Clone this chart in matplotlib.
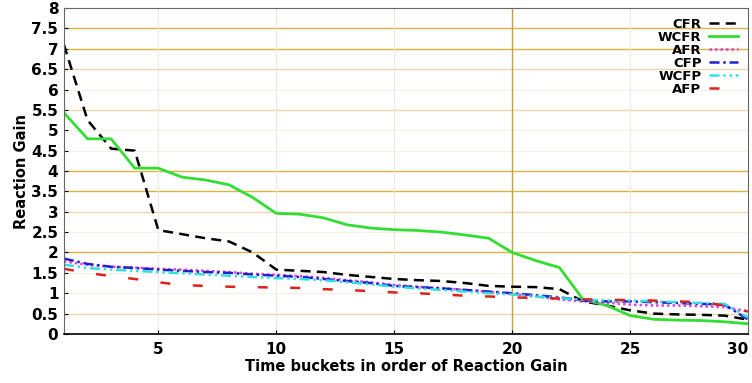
import matplotlib
matplotlib.use("Agg")
import matplotlib.pyplot as plt
import numpy as np

x = list(range(1, 31))
CFR = [7.1, 5.25, 4.55, 4.5, 2.55, 2.45, 2.35, 2.27, 2.0, 1.58, 1.55, 1.52, 1.45, 1.4, 1.35,
       1.32, 1.3, 1.25, 1.18, 1.16, 1.15, 1.1, 0.8, 0.7, 0.58, 0.5, 0.48, 0.47, 0.45, 0.35]
WCFR = [5.43, 4.79, 4.79, 4.07, 4.07, 3.85, 3.78, 3.66, 3.35, 2.96, 2.94, 2.85, 2.68, 2.6, 2.56,
        2.54, 2.5, 2.43, 2.35, 2.0, 1.8, 1.63, 0.85, 0.7, 0.45, 0.36, 0.34, 0.33, 0.3, 0.25]
AFR = [1.78, 1.7, 1.65, 1.63, 1.6, 1.58, 1.55, 1.52, 1.48, 1.45, 1.42, 1.38, 1.32, 1.27, 1.2,
       1.16, 1.12, 1.08, 1.03, 0.98, 0.92, 0.85, 0.8, 0.77, 0.72, 0.7, 0.7, 0.68, 0.66, 0.55]
CFP = [1.85, 1.72, 1.65, 1.62, 1.58, 1.55, 1.52, 1.5, 1.46, 1.43, 1.4, 1.35, 1.3, 1.25, 1.18,
       1.15, 1.12, 1.08, 1.04, 1.0, 0.95, 0.9, 0.82, 0.8, 0.8, 0.78, 0.76, 0.74, 0.72, 0.35]
WCFP = [1.7, 1.62, 1.58, 1.55, 1.52, 1.49, 1.46, 1.43, 1.4, 1.37, 1.35, 1.32, 1.27, 1.22, 1.16,
        1.12, 1.08, 1.04, 1.0, 0.97, 0.92, 0.88, 0.84, 0.82, 0.82, 0.8, 0.78, 0.76, 0.74, 0.4]
AFP = [1.6, 1.5, 1.42, 1.35, 1.27, 1.2, 1.18, 1.16, 1.15, 1.14, 1.13, 1.1, 1.08, 1.05, 1.02,
       1.0, 0.97, 0.94, 0.92, 0.9, 0.88, 0.87, 0.85, 0.84, 0.83, 0.82, 0.8, 0.78, 0.7, 0.55]

xticks = [5, 10, 15, 20, 25, 30]
yticks = [0, 0.5, 1, 1.5, 2, 2.5, 3, 3.5, 4, 4.5, 5, 5.5, 6, 6.5, 7, 7.5, 8]
ytick_labels = ["0", "0.5", "1", "1.5", "2", "2.5", "3", "3.5", "4", "4.5", "5",
                "5.5", "6", "6.5", "7", "7.5", "8"]

plt.rcParams['font.family'] = ['DejaVu Sans']
fig = plt.figure(figsize=(7.52, 3.83), dpi=100)
ax = fig.add_axes([0.085, 0.128, 0.910, 0.851])
ax.set_xlim(1, 30)
ax.set_ylim(0, 8)

# grid lines with varying intensity (as in reference)
strong = {7.5, 7, 4, 3.5, 2}
mid = {6.5, 5.5, 3, 0.5}
for yv in yticks[1:-1]:
    if yv in strong:
        c, lw = '#d8b440', 1.0
    elif yv in mid:
        c, lw = '#ead7b0', 1.0
    else:
        c, lw = '#f6efe4', 0.8
    ax.axhline(yv, color=c, lw=lw, zorder=0)
for xv in xticks[:-1]:
    if xv == 20:
        ax.axvline(xv, color='#c9a030', lw=1.0, zorder=0)
    else:
        ax.axvline(xv, color='#f0e8dc', lw=0.8, zorder=0)

ax.plot(x, CFR, color='black', lw=1.8, ls=(0, (4, 2.5)), label='CFR')
ax.plot(x, WCFR, color='#33dd33', lw=2.0, ls='-', label='WCFR')
ax.plot(x, AFR, color='#e040e0', lw=1.8, ls=(0, (1, 1.2)), label='AFR')
ax.plot(x, CFP, color='#2020d0', lw=1.8, ls=(0, (4, 1.5, 1, 1.5)), label='CFP')
ax.plot(x, WCFP, color='#30e0e0', lw=1.8, ls=(0, (4, 1.5, 1, 1.5, 1, 1.5)), label='WCFP')
ax.plot(x, AFP, color='#dd2020', lw=1.8, ls=(0, (4, 9)), label='AFP')

ax.set_xticks(xticks)
ax.set_yticks(yticks)
ax.set_yticklabels(ytick_labels)
ax.tick_params(axis='both', direction='in', length=3, labelsize=11, width=0.8)
ax.tick_params(axis='x', pad=6)
ax.tick_params(axis='y', pad=4)
for lab in ax.get_xticklabels() + ax.get_yticklabels():
    lab.set_fontweight('bold')
ax.get_xticklabels()[-1].set_horizontalalignment('right')

ax.set_xlabel('Time buckets in order of Reaction Gain', fontsize=10.5, fontweight='bold', labelpad=1)
ax.set_ylabel('Reaction Gain', fontsize=10.5, fontweight='bold', labelpad=2)

for s in ax.spines.values():
    s.set_color('#666666')
    s.set_linewidth(0.8)
ax.spines['bottom'].set_color('black')
ax.spines['bottom'].set_linewidth(1.2)

leg = ax.legend(loc='upper right', markerfirst=False, frameon=False,
                prop={'weight': 'bold', 'size': 9.5}, handlelength=2.2,
                labelspacing=0.0, handletextpad=0.6, borderaxespad=0.35)

fig.savefig('out.png', dpi=100)
